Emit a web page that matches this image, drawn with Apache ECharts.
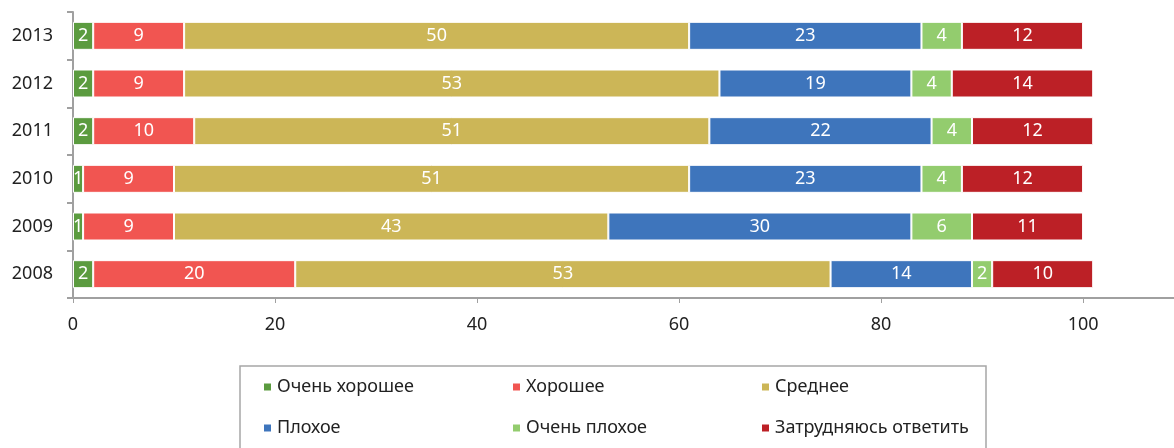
<!DOCTYPE html>
<html>
<head>
<meta charset="utf-8">
<script src="https://cdn.jsdelivr.net/npm/echarts@6/dist/echarts.min.js"></script>
<style>html,body{margin:0;padding:0;background:#fff}#c{width:1174px;height:448px}</style>
</head>
<body>
<div id="c"></div>
<script>
const years = ['2008','2009','2010','2011','2012','2013'];
const seriesNames = ['Очень хорошее','Хорошее','Среднее','Плохое','Очень плохое','Затрудняюсь ответить'];
const veryGood = [2, 1, 1, 2, 2, 2];
const good = [20, 9, 9, 10, 9, 9];
const average = [53, 43, 51, 51, 53, 50];
const bad = [14, 30, 23, 22, 19, 23];
const veryBad = [2, 6, 4, 4, 4, 4];
const hardToSay = [10, 11, 12, 12, 14, 12];
const xTicks = [0, 20, 40, 60, 80, 100];

const colors = ['#5B9B3F','#F15551','#CCB657','#3E75BC','#93CC6E','#BC2026'];
const values = [veryGood, good, average, bad, veryBad, hardToSay];

const chart = echarts.init(document.getElementById('c'));
const font = 'Noto Sans';
chart.setOption({
  animation: false,
  color: colors,
  grid: {left: 73, right: 0, top: 12, bottom: 150},
  xAxis: {
    type: 'value', min: 0, max: 109, interval: 20,
    axisLine: {show: true, lineStyle: {color: '#A0A0A0', width: 2}},
    axisTick: {show: true, length: 5, customValues: xTicks, lineStyle: {color: '#A0A0A0'}},
    splitLine: {show: false},
    axisLabel: {
      margin: 18, color: '#222', fontSize: 18, fontFamily: font,
      customValues: xTicks,
      formatter: v => xTicks.includes(v) ? String(v) : ''
    }
  },
  yAxis: {
    type: 'category', data: years,
    axisLine: {show: true, lineStyle: {color: '#A0A0A0', width: 2}},
    axisTick: {show: true, length: 6, lineStyle: {color: '#A0A0A0', width: 2}},
    axisLabel: {margin: 20, color: '#222', fontSize: 18, fontFamily: font}
  },
  legend: [
    {data: seriesNames.slice(0,3), left: 262, top: 376, padding: 0, itemGap: 0,
     itemWidth: 9, itemHeight: 9, icon: 'rect',
     textStyle: {color: '#222', fontSize: 18, fontFamily: font, width: 234, lineHeight: 22}},
    {data: seriesNames.slice(3), left: 262, top: 417, padding: 0, itemGap: 0,
     itemWidth: 9, itemHeight: 9, icon: 'rect',
     textStyle: {color: '#222', fontSize: 18, fontFamily: font, width: 234, lineHeight: 22}}
  ],
  graphic: [{
    type: 'rect', shape: {x: 240, y: 366, width: 746, height: 100},
    style: {fill: 'none', stroke: '#A6A6A6', lineWidth: 1.5}, silent: true
  }],
  series: seriesNames.map((n, i) => ({
    name: n, type: 'bar', stack: 'total', barWidth: 28,
    data: values[i],
    itemStyle: {color: colors[i], borderColor: '#fff', borderWidth: 1},
    label: {show: true, position: 'inside', color: '#fff', fontSize: 18, fontFamily: font}
  }))
});
</script>
</body>
</html>
